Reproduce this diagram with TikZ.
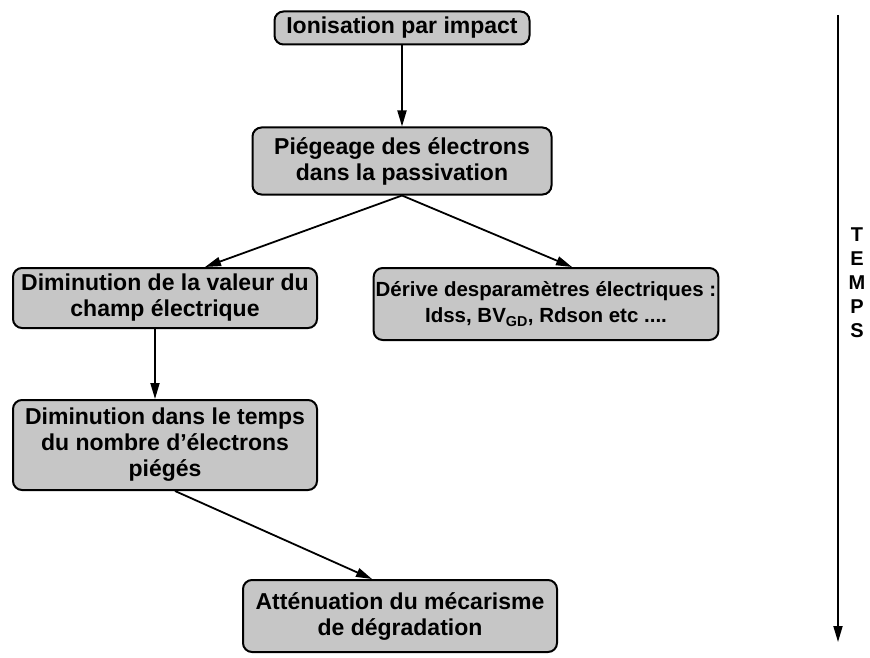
\documentclass[tikz,border=0pt]{standalone}
\usepackage{fontspec}
\setmainfont{Liberation Sans}
\usetikzlibrary{arrows.meta}

\tikzset{
  etape/.style={draw, line width=2pt, rounded corners=9pt, fill=gray!45,
    align=center, font=\bfseries\fontsize{23}{26}\selectfont, inner sep=2pt},
  fleche/.style={line width=1.8pt, -{Triangle[length=16pt, width=9pt]}}
}

\begin{document}
\begin{tikzpicture}[x=1pt, y=-1pt]

    % Frame
    \useasboundingbox (0,0) rectangle (870,658);

    % Steps
    \node[etape, minimum width=255, minimum height=33] (ionisation) at (402,28) {Ionisation par impact};
    \node[etape, minimum width=299, minimum height=67] (piegeage) at (402,161) {Piégeage des électrons\\dans la passivation};
    \node[etape, minimum width=304, minimum height=60] (champ) at (165,298) {Diminution de la valeur du\\champ électrique};
    \node[etape, minimum width=342, minimum height=72, font=\bfseries\fontsize{20.5}{26}\selectfont] (derive) at (546,304) {Dérive desparamètres électriques :\\Idss, BV\textsubscript{GD}, Rdson etc ....};
    \node[etape, minimum width=304, minimum height=90] (nombre) at (165,445) {Diminution dans le temps\\du nombre d'électrons\\piégés};
    \node[etape, minimum width=314, minimum height=72] (attenuation) at (400,616) {Atténuation du mécarisme\\de dégradation};

    % Connectors
    \draw[fleche] (ionisation.south) -- (piegeage.north);
    \draw[fleche] (piegeage.south) -- (champ.north -| 205,0);
    \draw[fleche] (piegeage.south) -- (derive.north -| 572,0);
    \draw[fleche] (champ.south -| 155,0) -- (nombre.north -| 155,0);
    \draw[fleche] (nombre.south -| 175,0) -- (attenuation.north -| 372,0);

    % Time axis
    \coordinate (debut) at (838,15);
    \coordinate (fin) at (838,642);
    \draw[fleche] (debut) -- (fin);
    \node[align=center, font=\bfseries\fontsize{20}{24}\selectfont] (temps) at (857,283) {T\\E\\M\\P\\S};

\end{tikzpicture}
\end{document}
